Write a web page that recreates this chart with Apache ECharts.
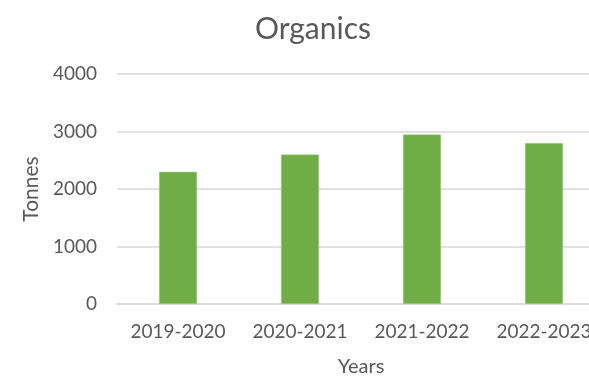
<!DOCTYPE html>
<html><head><meta charset="utf-8">
<script src="https://cdn.jsdelivr.net/npm/echarts@6/dist/echarts.min.js"></script>
<style>html,body{margin:0;padding:0;background:#fff}#c{width:589px;height:377px}</style>
</head><body><div id="c"></div>
<script>
const categories = ['2019-2020', '2020-2021', '2021-2022', '2022-2023'];
const tonnes = [2300, 2600, 2950, 2800];
const yTicks = [0, 1000, 2000, 3000, 4000];
const font = 'Lato, sans-serif';
const chart = echarts.init(document.getElementById('c'));
chart.setOption({
  animation: false,
  title: { text: 'Organics', left: 308, top: 9, textAlign: 'center',
    textStyle: { color: '#595959', fontSize: 30, fontWeight: 'normal', fontFamily: font } },
  grid: { left: 117, right: -16, top: 74, bottom: 73, containLabel: false, outerBoundsMode: 'none' },
  xAxis: { type: 'category', data: categories,
    name: 'Years', nameLocation: 'middle', nameGap: 53,
    nameTextStyle: { color: '#595959', fontSize: 20, fontFamily: font },
    axisLine: { lineStyle: { color: '#d9d9d9', width: 1.5 } }, axisTick: { show: false },
    axisLabel: { color: '#595959', fontSize: 19, fontFamily: font, margin: 18, interval: 0, hideOverlap: false } },
  yAxis: { type: 'value', min: yTicks[0], max: yTicks[yTicks.length-1], interval: 1000,
    name: 'Tonnes', nameLocation: 'middle', nameGap: 74, nameRotate: 90,
    nameTextStyle: { color: '#595959', fontSize: 21, fontFamily: font },
    axisLine: { show: false }, axisTick: { show: false },
    axisLabel: { color: '#595959', fontSize: 19, fontFamily: font, margin: 20,
      formatter: v => String(v) },
    splitLine: { lineStyle: { color: '#d9d9d9', width: 1.5 } } },
  series: [{ type: 'bar', data: tonnes, barWidth: 38,
    itemStyle: { color: '#70ad47', borderColor: '#a9d18e', borderWidth: 0.5 } }]
});
</script></body></html>
